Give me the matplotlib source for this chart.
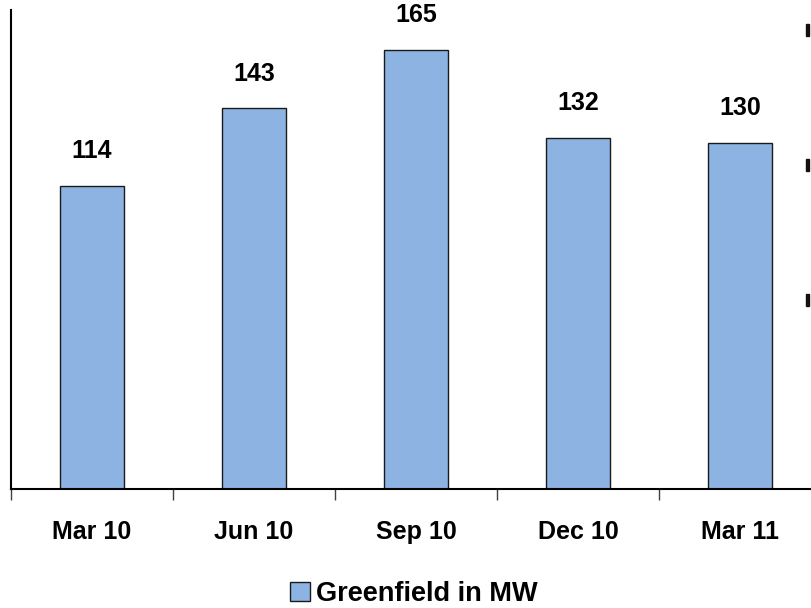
import matplotlib.pyplot as plt
from matplotlib.patches import Rectangle
import numpy as np

# Greenfield capacity per quarter
quarters = ['Mar 10', 'Jun 10', 'Sep 10', 'Dec 10', 'Mar 11']
greenfield_mw = [114, 143, 165, 132, 130]

plt.rcParams['font.family'] = ['Liberation Sans', 'DejaVu Sans']

fig = plt.figure(figsize=(8.11, 6.08), dpi=100)
ax = fig.add_axes([11 / 811, 119 / 608, 810 / 811, 479 / 608])

x = np.arange(len(quarters))
bars = ax.bar(x, greenfield_mw, width=0.4, color='#8DB3E2', edgecolor='#1a1a1a',
              linewidth=1.0, label='Greenfield in MW')

# value labels above the bars
for xi, v in zip(x, greenfield_mw):
    ax.text(xi, v + 13, str(v), ha='center', va='center', fontsize=18, fontweight='bold')

ax.set_xlim(-0.5, 4.5)
ax.set_ylim(0, 180)
ax.set_yticks([])
ax.set_xticks(x)
ax.set_xticklabels(quarters, fontsize=18, fontweight='bold')
ax.tick_params(axis='x', which='major', length=0, pad=22)
ax.set_xticks(np.arange(-0.5, 5.0, 1.0), minor=True)
ax.tick_params(axis='x', which='minor', length=8, width=1, color='#404040', direction='out')

for side in ['top', 'right']:
    ax.spines[side].set_visible(False)
ax.spines['left'].set_linewidth(1.5)
ax.spines['bottom'].set_linewidth(1.5)

# legend under the chart
leg = fig.legend(handles=[bars], labels=['Greenfield in MW'], loc='center',
                 bbox_to_anchor=(414 / 811, 1 - 594 / 608), frameon=False,
                 prop={'size': 19.5, 'weight': 'bold'}, handlelength=0.72,
                 handleheight=0.72, handletextpad=0.23, borderpad=0)

# small marks at the right edge
for yy in [30, 165, 300]:
    fig.add_artist(Rectangle((806 / 811, 1 - (yy + 6) / 608), 3 / 811, 12 / 608,
                             transform=fig.transFigure, color='#111111'))

fig.savefig('out.png', dpi=100)
